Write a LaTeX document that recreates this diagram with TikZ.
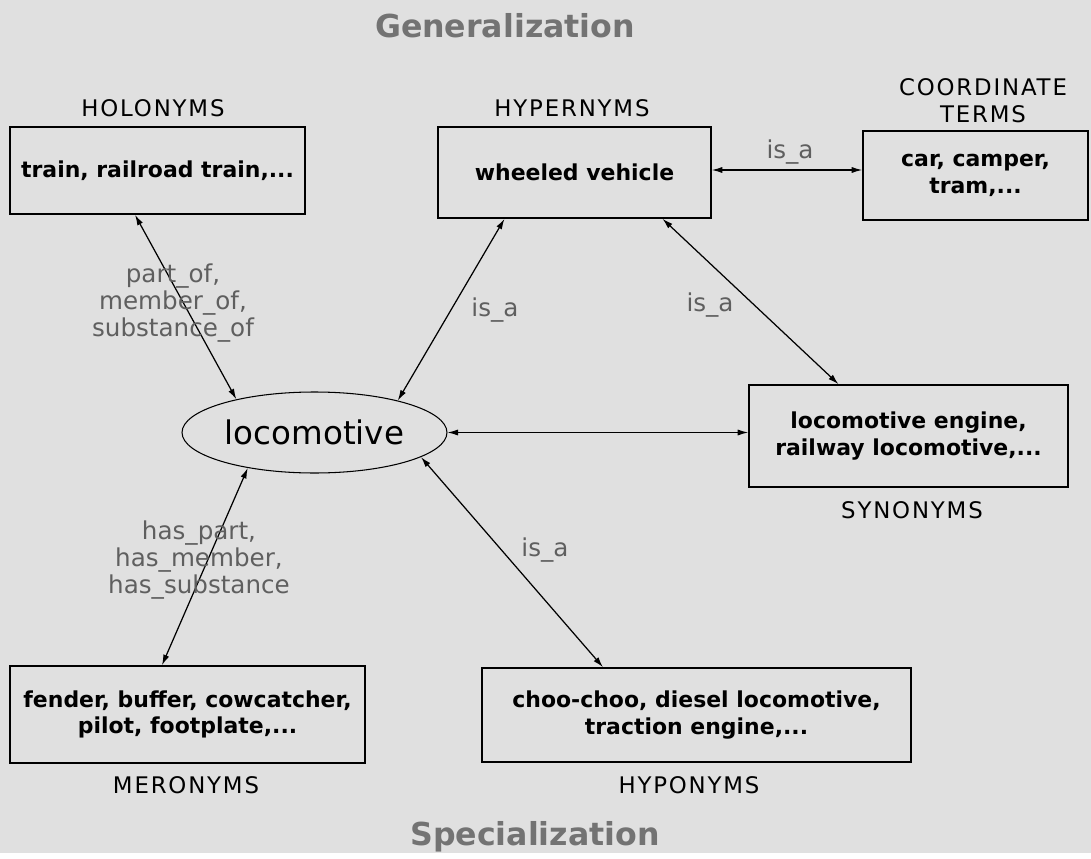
\documentclass[tikz,border=0pt]{standalone}
\usepackage{fontspec}
\setmainfont{DejaVu Sans}
\newfontfamily\capsfont[LetterSpace=8]{DejaVu Sans}
\usetikzlibrary{arrows.meta, shapes.geometric}
\definecolor{paper}{RGB}{224,224,224}
\definecolor{relgray}{RGB}{95,95,95}
\definecolor{titlegray}{RGB}{115,115,115}

\begin{document}
\begin{tikzpicture}[x=0.02cm, y=-0.02cm,
    box/.style={draw, line width=0.9pt, align=center, inner sep=2pt,
      font=\fontsize{12.5}{15}\selectfont\bfseries},
    head/.style={align=center, font=\fontsize{13}{15.5}\selectfont\capsfont},
    rel/.style={text=relgray, align=center, font=\fontsize{14}{15.5}\selectfont},
    link/.style={{Latex[length=6pt,width=3.5pt]}-{Latex[length=6pt,width=3.5pt]}, line width=0.7pt},
    title/.style={text=titlegray, font=\fontsize{18}{20}\selectfont\bfseries}]
    % paper
    \fill[paper] (0,0) rectangle (1091,853);
    % titles
    \node[title] (gen) at (505,26) {Generalization};
    \node[title] (spec) at (535,837) {Specialization};
    % top row
    \node[box, minimum width=5.9cm, minimum height=1.74cm] (holo) at (157.5,170.5) {train, railroad train,...};
    \node[head] (holoHd) at (153,108) {HOLONYMS};
    \node[box, minimum width=5.46cm, minimum height=1.82cm] (hyper) at (574.5,172.5) {wheeled vehicle};
    \node[head] (hyperHd) at (572,108) {HYPERNYMS};
    \node[box, minimum width=4.5cm, minimum height=1.78cm] (coord) at (975.5,175.5) {car, camper,\\ tram,...};
    \node[head] (coordHd) at (983,101) {COORDINATE\\ TERMS};
    % middle
    \node[draw, ellipse, line width=0.6pt, minimum width=5.3cm, minimum height=1.62cm, inner sep=0pt,
      font=\fontsize{18.5}{20}\selectfont] (loco) at (314.5,432.5) {locomotive};
    \node[box, minimum width=6.38cm, minimum height=2.04cm] (syn) at (908.5,436) {locomotive engine,\\ railway locomotive,...};
    \node[head] (synHd) at (912,510) {SYNONYMS};
    % bottom row
    \node[box, minimum width=7.1cm, minimum height=1.94cm] (mero) at (187.5,714.5) {fender, buffer, cowcatcher,\\ pilot, footplate,...};
    \node[head] (meroHd) at (186,785) {MERONYMS};
    \node[box, minimum width=8.58cm, minimum height=1.88cm] (hypo) at (696.5,715) {choo-choo, diesel locomotive,\\ traction engine,...};
    \node[head] (hypoHd) at (689,785) {HYPONYMS};
    % relations
    \draw[link] ([xshift=-0.45cm]holo.south) -- (loco.157);
    \draw[link] ([xshift=-1.4cm]hyper.south) -- (loco.21);
    \draw[link] ([xshift=1.76cm]hyper.south) -- ([xshift=-1.4cm]syn.north);
    \draw[link] ([yshift=0.05cm]hyper.east) -- ([yshift=0.05cm]hyper.east -| coord.west);
    \draw[link] (loco.east) -- (loco.east -| syn.west);
    \draw[link] (loco.208) -- ([xshift=-0.51cm]mero.north);
    \draw[link] (loco.-13) -- ([xshift=-1.87cm]hypo.north);
    % relation labels
    \node[rel] (holoRel) at (173,303) {part\_of,\\ member\_of,\\ substance\_of};
    \node[rel] (meroRel) at (199,560) {has\_part,\\ has\_member,\\ has\_substance};
    \node[rel] (hyperRel) at (495,310) {is\_a};
    \node[rel] (synRel) at (710,305) {is\_a};
    \node[rel] (coordRel) at (790,152) {is\_a};
    \node[rel] (hypoRel) at (545,550) {is\_a};
\end{tikzpicture}
\end{document}
